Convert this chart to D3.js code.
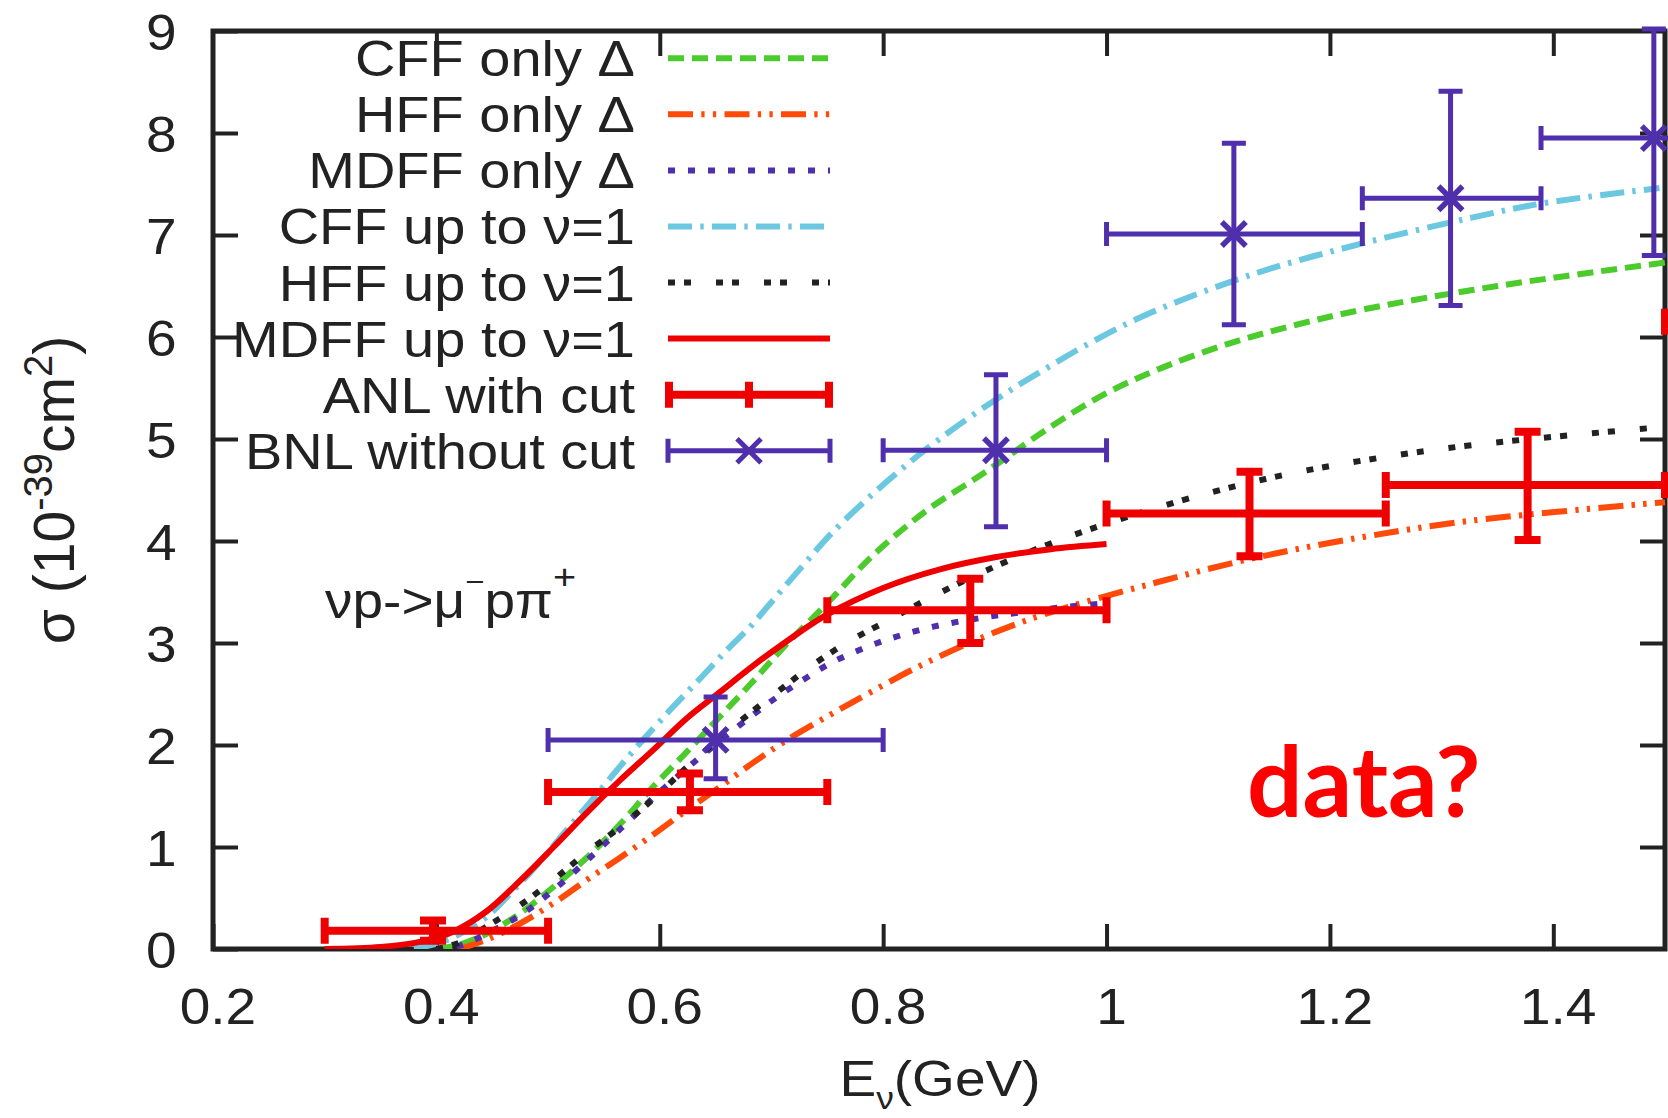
<!DOCTYPE html>
<html>
<head>
<meta charset="utf-8">
<script src="https://cdn.jsdelivr.net/npm/d3@7"></script>
<style>
body{margin:0;background:#fff}
svg{display:block}
text{font-family:"Liberation Sans",Arial,Helvetica,sans-serif;fill:#222}
</style>
</head>
<body>
<div id="chart"></div>
<script>
// theory curves, pairs of [E_nu (GeV), sigma (1e-39 cm^2)]
const cffOnly = [[0.40,0.0],[0.42,0.04],[0.445,0.15],[0.475,0.35],[0.505,0.61],[0.535,0.9],[0.565,1.23],[0.594,1.59],[0.624,1.93],[0.654,2.28],[0.684,2.63],[0.711,2.96],[0.75,3.39],[0.791,3.86],[0.839,4.3],[0.881,4.6],[0.9,4.74],[0.95,5.12],[1.0,5.45],[1.05,5.7],[1.111,5.94],[1.17,6.12],[1.23,6.27],[1.35,6.5],[1.5,6.73]];
const hffOnly = [[0.42,0.0],[0.445,0.09],[0.475,0.25],[0.505,0.45],[0.535,0.68],[0.565,0.9],[0.594,1.12],[0.624,1.36],[0.654,1.59],[0.684,1.83],[0.714,2.05],[0.75,2.28],[0.776,2.44],[0.83,2.76],[0.89,3.06],[0.944,3.28],[1.04,3.58],[1.135,3.84],[1.23,4.04],[1.327,4.2],[1.5,4.38]];
const mdffOnly = [[0.40,0.0],[0.42,0.03],[0.445,0.15],[0.475,0.33],[0.505,0.58],[0.535,0.87],[0.565,1.18],[0.594,1.48],[0.624,1.77],[0.654,2.04],[0.684,2.3],[0.705,2.47],[0.73,2.65],[0.756,2.82],[0.8,3.02],[0.845,3.16],[0.89,3.25],[0.923,3.3],[0.96,3.35],[1.0,3.39]];
const cffNu1 = [[0.38,0.0],[0.41,0.09],[0.441,0.28],[0.465,0.53],[0.489,0.81],[0.513,1.12],[0.537,1.43],[0.573,1.9],[0.609,2.34],[0.636,2.65],[0.66,2.93],[0.681,3.16],[0.696,3.35],[0.729,3.77],[0.756,4.1],[0.803,4.58],[0.848,4.98],[0.9,5.38],[0.944,5.68],[0.99,5.97],[1.04,6.24],[1.135,6.63],[1.23,6.92],[1.327,7.17],[1.39,7.31],[1.495,7.46]];
const hffNu1 = [[0.40,0.0],[0.42,0.06],[0.445,0.22],[0.475,0.43],[0.505,0.68],[0.535,0.95],[0.565,1.2],[0.594,1.47],[0.624,1.78],[0.654,2.07],[0.684,2.34],[0.71,2.56],[0.735,2.77],[0.77,3.02],[0.806,3.23],[0.845,3.46],[0.89,3.7],[0.944,3.95],[1.0,4.17],[1.088,4.46],[1.16,4.65],[1.23,4.79],[1.327,4.94],[1.49,5.11]];
const mdffNu1 = [[0.30,0.0],[0.35,0.02],[0.385,0.07],[0.415,0.17],[0.445,0.37],[0.475,0.67],[0.505,1.0],[0.535,1.34],[0.565,1.66],[0.594,1.95],[0.624,2.26],[0.654,2.52],[0.684,2.78],[0.714,3.02],[0.75,3.28],[0.80,3.54],[0.85,3.72],[0.90,3.84],[0.95,3.92],[1.0,3.97]];

// ANL with cut
const anlE     = [0.397, 0.627, 0.878, 1.128, 1.377, 1.625];
const anlELow  = [0.30, 0.50, 0.75, 1.00, 1.25, 1.50];
const anlEHigh = [0.50, 0.75, 1.00, 1.25, 1.50, 1.75];
const anlSig   = [0.18, 1.54, 3.32, 4.27, 4.55, 6.15];
const anlSigLo = [0.08, 1.36, 3.00, 3.85, 4.01, 5.60];
const anlSigHi = [0.28, 1.72, 3.63, 4.68, 5.07, 6.70];

// BNL without cut
const bnlE     = [0.65, 0.901, 1.114, 1.308, 1.49];
const bnlELow  = [0.50, 0.80, 1.00, 1.229, 1.389];
const bnlEHigh = [0.80, 1.00, 1.229, 1.389, 1.60];
const bnlSig   = [2.05, 4.89, 7.01, 7.36, 7.95];
const bnlSigLo = [1.67, 4.14, 6.12, 6.31, 6.80];
const bnlSigHi = [2.47, 5.63, 7.90, 8.41, 9.02];

const xTicks = [0.2, 0.4, 0.6, 0.8, 1, 1.2, 1.4];
const yTicks = [0, 1, 2, 3, 4, 5, 6, 7, 8, 9];
const legendLabels = ['CFF only Δ', 'HFF only Δ', 'MDFF only Δ', 'CFF up to ν=1', 'HFF up to ν=1', 'MDFF up to ν=1', 'ANL with cut', 'BNL without cut'];

const W = 1668, H = 1118;
const L = 213, R = 1665, T = 31, B = 949;

const RED = '#ee0000', PURPLE = '#4f2fac';
const curves = [
  {data: cffOnly,  color: '#4ccb2c', dash: '16 8'},
  {data: hffOnly,  color: '#ff4a0a', dash: '25 8.3 3.3 8.3 3.3 8.3'},
  {data: mdffOnly, color: PURPLE,    dash: '7 13'},
  {data: cffNu1,   color: '#6cc8e0', dash: '24 8.3 3.4 8.3'},
  {data: hffNu1,   color: '#222222', dash: '7 9 7 25'},
  {data: mdffNu1,  color: RED,       dash: null}
];

const svg = d3.select('#chart').append('svg')
  .attr('width', W)
  .attr('height', H);
svg.append('rect').attr('width', W).attr('height', H).attr('fill', '#fff');

const x = d3.scaleLinear().domain([0.2, 1.5]).range([L, R]);
const y = d3.scaleLinear().domain([0, 9]).range([B, T]);

//axes, ticks pointing inward on all four sides
const styleAxis = function(g){
  g.select('.domain').remove();
  g.selectAll('.tick line').attr('stroke', '#222').attr('stroke-width', 4);
};
svg.append('g').attr('transform', `translate(0,${B})`)
  .call(d3.axisBottom(x).tickValues(xTicks).tickSize(-25).tickPadding(40).tickFormat(d => String(d)))
  .call(styleAxis)
  .call(g => g.selectAll('.tick text').attr('x', 4).attr('transform', 'scale(1.1,1)')
    .style('font-size', '50px').attr('fill', '#222').attr('font-family', null));
svg.append('g').attr('transform', `translate(0,${T})`)
  .call(d3.axisTop(x).tickValues(xTicks.slice(1)).tickSize(-25).tickFormat(''))
  .call(styleAxis);
svg.append('g').attr('transform', `translate(${L},0)`)
  .call(d3.axisLeft(y).tickValues(yTicks).tickSize(-25).tickPadding(33).tickFormat(d => String(d)))
  .call(styleAxis)
  .call(g => g.selectAll('.tick text').attr('dy', '0.36em').attr('transform', 'scale(1.1,1)')
    .style('font-size', '50px').attr('fill', '#222').attr('font-family', null));
svg.append('g').attr('transform', `translate(${R},0)`)
  .call(d3.axisRight(y).tickValues(yTicks.slice(1, -1)).tickSize(-25).tickFormat(''))
  .call(styleAxis);

svg.append('rect')
  .attr('x', L).attr('y', T).attr('width', R - L).attr('height', B - T)
  .attr('fill', 'none').attr('stroke', '#222').attr('stroke-width', 5);

svg.append('clipPath').attr('id', 'plotclip')
  .append('rect').attr('x', L).attr('y', 18).attr('width', W - L).attr('height', B - 18);

const plot = svg.append('g').attr('clip-path', 'url(#plotclip)');

const line = d3.line()
  .x(d => x(d[0]))
  .y(d => y(d[1]))
  .curve(d3.curveCatmullRom.alpha(0.5));

plot.selectAll('path.curve').data(curves).join('path')
  .attr('class', 'curve')
  .attr('d', d => line(d.data))
  .attr('fill', 'none')
  .attr('stroke', d => d.color)
  .attr('stroke-width', 6)
  .attr('stroke-dasharray', d => d.dash);

//error bars: horizontal bar with end caps, vertical bar with end caps
function errorBars(g, E, ELo, EHi, S, SLo, SHi, color, width, cap){
  const rows = E.map((e, i) => ({e: e, lo: ELo[i], hi: EHi[i], s: S[i], slo: SLo[i], shi: SHi[i]}));
  const grp = g.append('g').attr('stroke', color).attr('stroke-width', width).attr('fill', 'none');
  grp.selectAll('path').data(rows).join('path')
    .attr('d', d => {
      const x0 = x(d.lo), x1 = x(d.hi), xc = x(d.e), yc = y(d.s), yl = y(d.slo), yh = y(d.shi);
      return `M${x0},${yc}H${x1}` +
        `M${x0},${yc - cap}V${yc + cap}M${x1},${yc - cap}V${yc + cap}` +
        `M${xc},${yl}V${yh}` +
        `M${xc - cap},${yl}H${xc + cap}M${xc - cap},${yh}H${xc + cap}`;
    });
  return rows;
}
errorBars(plot, anlE, anlELow, anlEHigh, anlSig, anlSigLo, anlSigHi, RED, 8, 13);
const bnlRows = errorBars(plot, bnlE, bnlELow, bnlEHigh, bnlSig, bnlSigLo, bnlSigHi, PURPLE, 5, 12);
plot.selectAll('path.mark').data(bnlRows).join('path')
  .attr('class', 'mark')
  .attr('d', d => `M${x(d.e) - 12},${y(d.s) - 12}l24,24M${x(d.e) - 12},${y(d.s) + 12}l24,-24`)
  .attr('stroke', PURPLE).attr('stroke-width', 5.5).attr('fill', 'none');

//legend
const legY = i => 58.3 + i * 56.06;
const leg = svg.append('g');
leg.selectAll('text').data(legendLabels).join('text')
  .attr('transform', (d, i) => `translate(635,${legY(i) + 18}) scale(1.12,1)`)
  .attr('text-anchor', 'end')
  .style('font-size', '50px')
  .text(d => d);
leg.selectAll('line').data(curves).join('line')
  .attr('x1', 668).attr('x2', 830)
  .attr('y1', (d, i) => legY(i)).attr('y2', (d, i) => legY(i))
  .attr('stroke', d => d.color)
  .attr('stroke-width', 6)
  .attr('stroke-dasharray', d => d.dash);
const yA = legY(6), yB = legY(7);
leg.append('path')
  .attr('d', `M669,${yA}H829M669,${yA - 13}V${yA + 13}M829,${yA - 13}V${yA + 13}M749,${yA - 13}V${yA + 13}`)
  .attr('stroke', RED).attr('stroke-width', 8).attr('fill', 'none');
leg.append('path')
  .attr('d', `M668,${yB}H830M668,${yB - 12}V${yB + 12}M830,${yB - 12}V${yB + 12}M737,${yB - 12}l24,24M737,${yB + 12}l24,-24`)
  .attr('stroke', PURPLE).attr('stroke-width', 5).attr('fill', 'none');

//reaction label
const rx = svg.append('text')
  .attr('transform', 'translate(325,618) scale(1.1,1)')
  .style('font-size', '50px');
rx.append('tspan').text('νp->μ');
rx.append('tspan').attr('dy', -26).style('font-size', '30px').text('−');
rx.append('tspan').attr('dy', 26).text('pπ');
rx.append('tspan').attr('dy', -29).style('font-size', '36px').text('+');

//axis titles
const xt = svg.append('text')
  .attr('transform', 'translate(940,1096) scale(1.1,1)')
  .attr('text-anchor', 'middle')
  .style('font-size', '50px');
xt.append('tspan').text('E');
xt.append('tspan').attr('dy', 13).style('font-size', '32px').text('ν');
xt.append('tspan').attr('dy', -13).text('(GeV)');

const yt = svg.append('text')
  .attr('transform', 'translate(74,490) rotate(-90)')
  .attr('text-anchor', 'middle')
  .style('font-size', '57px');
yt.append('tspan').text('σ (10');
yt.append('tspan').attr('dy', -22).style('font-size', '40px').text('-39');
yt.append('tspan').attr('dy', 22).text('cm');
yt.append('tspan').attr('dy', -22).style('font-size', '40px').text('2');
yt.append('tspan').attr('dy', 22).text(')');

//overlay note
svg.append('text')
  .attr('x', 1247).attr('y', 817)
  .style('font-family', 'Lato, "Open Sans", sans-serif')
  .style('font-weight', 700)
  .style('font-size', '98px')
  .style('fill', '#ff0000')
  .text('data?');
</script>
</body>
</html>
